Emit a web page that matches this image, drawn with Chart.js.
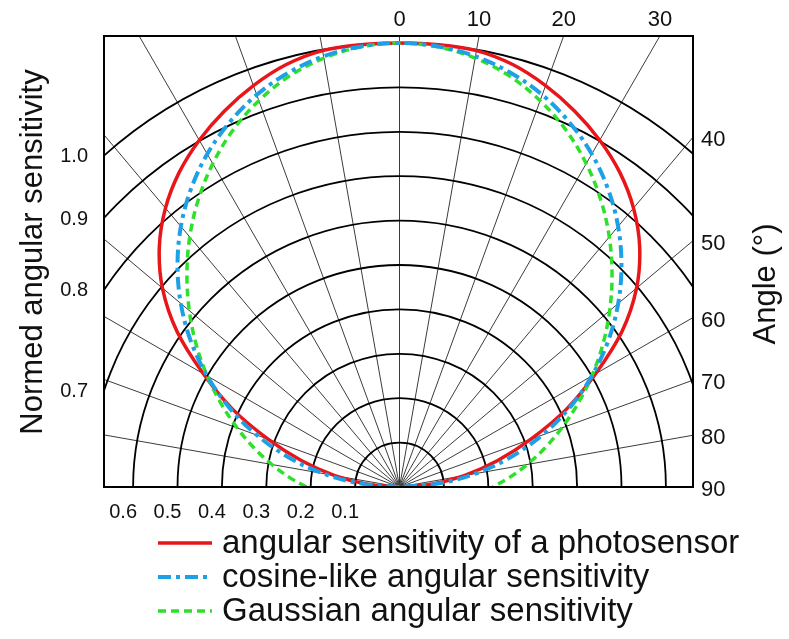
<!DOCTYPE html>
<html><head><meta charset="utf-8">
<script src="https://cdn.jsdelivr.net/npm/chart.js@4.4.0/dist/chart.umd.min.js"></script>
<style>html,body{margin:0;padding:0;background:#fff;}canvas{display:block;}</style>
</head><body>
<canvas id="c" width="789" height="639"></canvas>
<script>
// ---- data (angle from vertical in degrees, normed sensitivity) ----
const anglesDeg = [-90,-85,-80,-75,-70,-65,-60,-55,-50,-45,-40,-35,-30,-25,-20,-15,-10,-5,0,5,10,15,20,25,30,35,40,45,50,55,60,65,70,75,80,85,90];
const photosensor = [0.000,0.072,0.148,0.228,0.315,0.415,0.510,0.612,0.697,0.765,0.820,0.865,0.902,0.934,0.962,0.985,0.998,1.000,1.000,1.000,0.998,0.985,0.962,0.934,0.902,0.865,0.820,0.765,0.697,0.612,0.510,0.415,0.315,0.228,0.148,0.072,0.000];
const cosineLike  = [0.000,0.087,0.174,0.259,0.342,0.423,0.500,0.574,0.643,0.707,0.766,0.819,0.866,0.906,0.940,0.966,0.985,0.996,1.000,0.996,0.985,0.966,0.940,0.906,0.866,0.819,0.766,0.707,0.643,0.574,0.500,0.423,0.342,0.259,0.174,0.087,0.000];
const gaussian    = [0.210,0.249,0.292,0.339,0.389,0.443,0.500,0.559,0.618,0.677,0.735,0.790,0.841,0.887,0.926,0.958,0.981,0.995,1.000,0.995,0.981,0.958,0.926,0.887,0.841,0.790,0.735,0.677,0.618,0.559,0.500,0.443,0.389,0.339,0.292,0.249,0.210];
const seriesLabels = ['angular sensitivity of a photosensor','cosine-like angular sensitivity','Gaussian angular sensitivity'];
const spokeAngles = [-90,-80,-70,-60,-50,-40,-30,-20,-10,0,10,20,30,40,50,60,70,80,90];
const angleTickLabels = [0,10,20,30,40,50,60,70,80,90];
const ringValues = [0.1,0.2,0.3,0.4,0.5,0.6,0.7,0.8,0.9,1.0];
const bottomRadialLabels = ['0.1','0.2','0.3','0.4','0.5','0.6'];
const sideRadialLabels = ['0.7','0.8','0.9','1.0'];
const yTitle = 'Normed angular sensitivity';
const angleTitle = 'Angle (°)';

function toXY(vals){
  return anglesDeg.map((d,i)=>{const t=d*Math.PI/180;return {x:vals[i]*Math.sin(t), y:vals[i]*Math.cos(t)};});
}

const FONT = '"Liberation Sans", Arial, sans-serif';
const UNIT = 444;

const polarPlugin = {
  id:'polarPlugin',
  beforeDatasetsDraw(chart){
    const {ctx, chartArea:a, scales:{x,y}} = chart;
    const cx = x.getPixelForValue(0), cy = y.getPixelForValue(0);
    const unit = x.getPixelForValue(1) - cx;
    ctx.save();
    ctx.beginPath(); ctx.rect(a.left,a.top,a.right-a.left,a.bottom-a.top); ctx.clip();
    ctx.strokeStyle='#3c3c3c'; ctx.lineWidth=1;
    spokeAngles.forEach(d=>{
      const t=d*Math.PI/180;
      ctx.beginPath(); ctx.moveTo(cx,cy); ctx.lineTo(cx+1500*Math.sin(t), cy-1500*Math.cos(t)); ctx.stroke();
    });
    ctx.strokeStyle='#000'; ctx.lineWidth=1.8;
    ringValues.forEach(r=>{
      ctx.beginPath(); ctx.arc(cx,cy,r*unit,Math.PI,2*Math.PI); ctx.stroke();
    });
    ctx.restore();
  },
  afterDraw(chart){
    const {ctx, chartArea:a, scales:{x,y}} = chart;
    const cx = x.getPixelForValue(0), cy = y.getPixelForValue(0);
    const unit = x.getPixelForValue(1) - cx;
    ctx.save();
    ctx.strokeStyle='#000'; ctx.lineWidth=2;
    ctx.strokeRect(a.left,a.top,a.right-a.left,a.bottom-a.top);
    ctx.fillStyle='#111';
    ctx.font='22px '+FONT;
    angleTickLabels.forEach(d=>{
      const t=d*Math.PI/180;
      const hTop = cy-a.top;
      const xTop = cx + hTop*Math.tan(t);
      if (d < 90 && xTop <= a.right){
        ctx.textAlign='center'; ctx.textBaseline='middle';
        ctx.fillText(String(d), xTop, a.top-16);
      } else {
        const yr = d===90 ? cy : cy - (a.right-cx)/Math.tan(t);
        ctx.textAlign='left'; ctx.textBaseline='middle';
        ctx.fillText(String(d), a.right+8, yr+3);
      }
    });
    ctx.font='20px '+FONT;
    ctx.textAlign='center'; ctx.textBaseline='middle';
    bottomRadialLabels.forEach(s=>{
      const r=parseFloat(s)*unit;
      ctx.fillText(s, cx - r - 10, a.bottom+25);
    });
    ctx.textAlign='right';
    sideRadialLabels.forEach(s=>{
      const r=parseFloat(s)*unit;
      const dx=cx-a.left;
      const yy=cy-Math.sqrt(Math.max(0,r*r-dx*dx));
      ctx.fillText(s, 88, yy+1);
    });
    ctx.font='31px '+FONT;
    ctx.textAlign='center'; ctx.textBaseline='alphabetic';
    ctx.save(); ctx.translate(42, 252); ctx.rotate(-Math.PI/2); ctx.fillText(yTitle,0,0); ctx.restore();
    ctx.save(); ctx.translate(775, 284); ctx.rotate(-Math.PI/2); ctx.fillText(angleTitle,0,0); ctx.restore();
    const rows=[543,577,611];
    const ds = chart.data.datasets;
    ctx.font='33px '+FONT; ctx.textAlign='left'; ctx.textBaseline='middle';
    ds.forEach((d,i)=>{
      ctx.save();
      ctx.strokeStyle=d.borderColor; ctx.lineWidth=d.borderWidth; ctx.setLineDash(d.borderDash||[]);
      ctx.beginPath(); ctx.moveTo(158,rows[i]); ctx.lineTo(212,rows[i]); ctx.stroke();
      ctx.restore();
      ctx.fillStyle='#111';
      ctx.fillText(d.label, 222, rows[i]+1);
    });
    ctx.restore();
  }
};

const chart = new Chart(document.getElementById('c'), {
  type:'scatter',
  data:{datasets:[
    {label:seriesLabels[0], data:toXY(photosensor), showLine:true, borderColor:'#e8161b', borderWidth:3.5, pointRadius:0, tension:0.35, order:2},
    {label:seriesLabels[1], data:toXY(cosineLike), showLine:true, borderColor:'#1ea0e6', borderWidth:4, borderDash:[13,5,4,5], pointRadius:0, tension:0.35, order:0},
    {label:seriesLabels[2], data:toXY(gaussian), showLine:true, borderColor:'#2ee02a', borderWidth:3.5, borderDash:[8,5], pointRadius:0, tension:0.35, order:1}
  ]},
  options:{
    responsive:false, animation:false, devicePixelRatio:1,
    layout:{padding:{left:104,right:96,top:36,bottom:152}},
    plugins:{legend:{display:false}, tooltip:{enabled:false}},
    scales:{
      x:{type:'linear', min:-295.5/UNIT, max:293.5/UNIT, display:false},
      y:{type:'linear', min:0, max:451/UNIT, display:false}
    }
  },
  plugins:[polarPlugin]
});
</script>
</body></html>
